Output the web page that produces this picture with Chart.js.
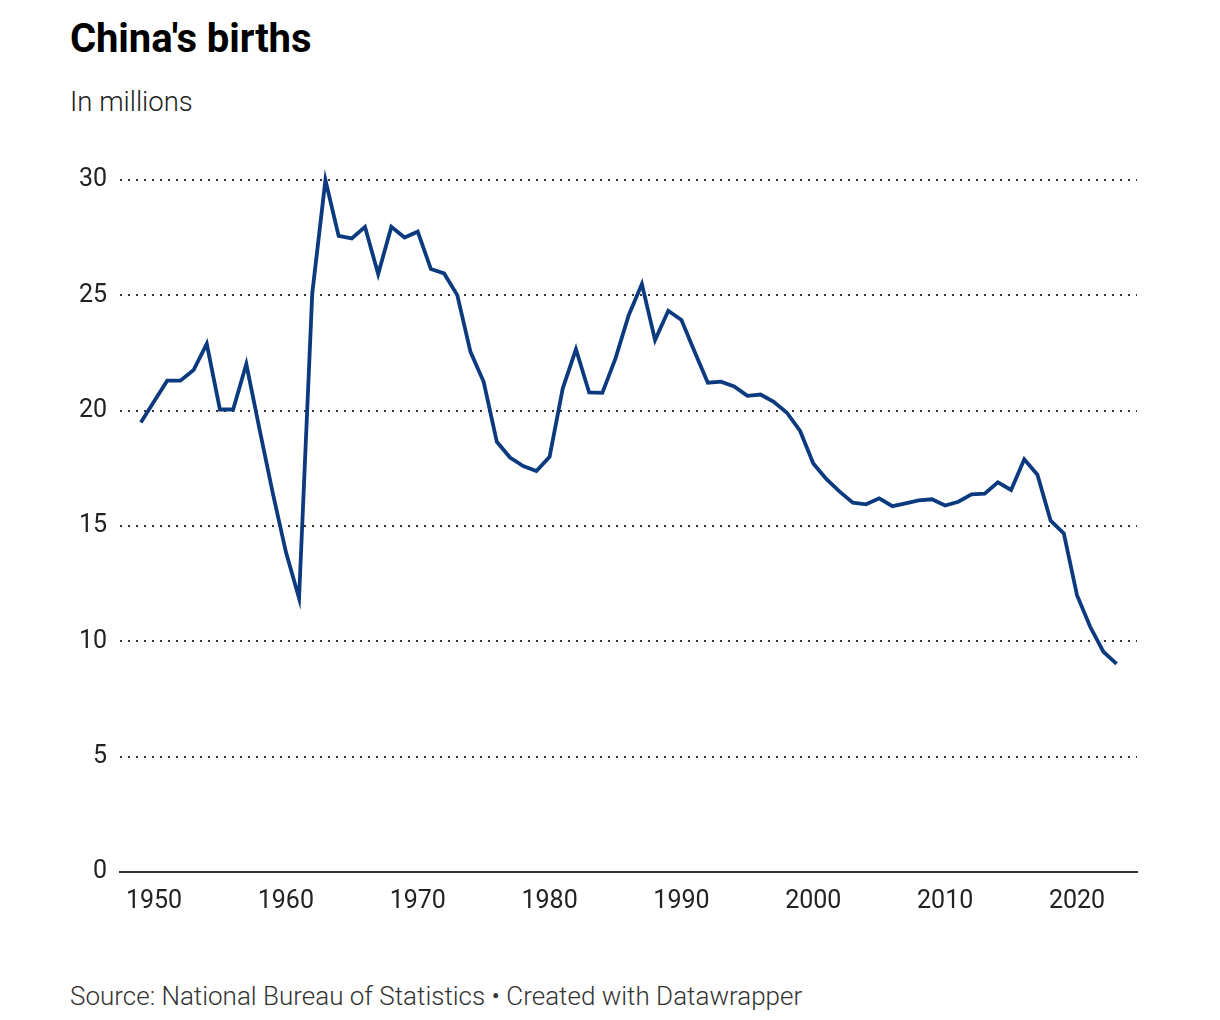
<!DOCTYPE html>
<html>
<head>
<meta charset="utf-8">
<script src="https://cdn.jsdelivr.net/npm/chart.js@4"></script>
<style>
  body { margin: 0; background: #fff; font-family: Roboto, sans-serif; }
  #wrap { position: relative; width: 1220px; height: 1020px; }
  h1 { position: absolute; left: 70px; top: 19px; margin: 0; font-size: 40px; line-height: 1; font-weight: 700; color: #000; letter-spacing: -0.1px; }
  .sub { position: absolute; left: 70px; top: 88px; font-size: 27.5px; line-height: 1; font-weight: 300; color: #222; }
  .source { position: absolute; left: 70px; top: 983px; font-size: 26px; line-height: 1; font-weight: 300; color: #333; }
  #box { position: absolute; left: 0; top: 0; width: 1220px; height: 940px; }
</style>
</head>
<body>
<div id="wrap">
  <h1>China's births</h1>
  <div class="sub">In millions</div>
  <div id="box"><canvas id="births"></canvas></div>
  <div class="source">Source: National Bureau of Statistics • Created with Datawrapper</div>
</div>
<script>
// years and births (millions)
const years = [
  1949, 1950, 1951, 1952, 1953, 1954, 1955, 1956, 1957, 1958,
  1959, 1960, 1961, 1962, 1963, 1964, 1965, 1966, 1967, 1968,
  1969, 1970, 1971, 1972, 1973, 1974, 1975, 1976, 1977, 1978,
  1979, 1980, 1981, 1982, 1983, 1984, 1985, 1986, 1987, 1988,
  1989, 1990, 1991, 1992, 1993, 1994, 1995, 1996, 1997, 1998,
  1999, 2000, 2001, 2002, 2003, 2004, 2005, 2006, 2007, 2008,
  2009, 2010, 2011, 2012, 2013, 2014, 2015, 2016, 2017, 2018,
  2019, 2020, 2021, 2022, 2023
];
const births = [
  19.49, 20.4, 21.3, 21.3, 21.76, 22.9, 20.05, 20.05, 22.02, 19.2,
  16.45, 13.88, 11.87, 25.08, 30.0, 27.58, 27.47, 27.97, 25.92, 27.97,
  27.51, 27.76, 26.14, 25.95, 25.01, 22.55, 21.25, 18.65, 17.97, 17.6,
  17.38, 18.0, 20.97, 22.66, 20.79, 20.77, 22.27, 24.14, 25.49, 23.06,
  24.33, 23.93, 22.55, 21.21, 21.26, 21.05, 20.64, 20.7, 20.38, 19.91,
  19.12, 17.71, 17.03, 16.49, 16.01, 15.94, 16.2, 15.86, 15.98, 16.11,
  16.16, 15.89, 16.05, 16.37, 16.4, 16.89, 16.56, 17.89, 17.22, 15.23,
  14.68, 12.0, 10.63, 9.55, 9.02
];
const xTicks = [1950, 1960, 1970, 1980, 1990, 2000, 2010, 2020];
const yTicks = [0, 5, 10, 15, 20, 25, 30];

const points = years.map((yr, i) => ({ x: yr, y: births[i] }));
const tickFont = { family: 'Roboto', size: 25, weight: '400' };

new Chart(document.getElementById('births').getContext('2d'), {
  type: 'line',
  data: {
    datasets: [{
      data: points,
      borderColor: '#0b3a7e',
      borderWidth: 3.8,
      pointRadius: 0,
      tension: 0,
      clip: false
    }]
  },
  options: {
    responsive: true,
    maintainAspectRatio: false,
    animation: false,
    layout: { padding: { top: 180, right: 83, left: 0, bottom: 0 } },
    plugins: { legend: { display: false }, tooltip: { enabled: false } },
    scales: {
      x: {
        type: 'linear',
        min: 1947.42,
        max: 2024.55,
        afterBuildTicks: s => { s.ticks = xTicks.map(v => ({ value: v })); },
        afterFit: s => { s.height = 68; },
        grid: { display: false, drawTicks: false },
        border: { display: true, color: '#333', width: 2 },
        ticks: {
          padding: 15,
          color: '#222',
          font: tickFont,
          maxRotation: 0,
          callback: v => String(v)
        }
      },
      y: {
        min: 0,
        max: 30,
        afterBuildTicks: s => { s.ticks = yTicks.map(v => ({ value: v })); },
        afterFit: s => { s.width = 120; },
        border: { display: false, dash: [2, 6] },
        grid: {
          drawTicks: false,
          lineWidth: 2,
          color: c => c.tick && c.tick.value === 0 ? 'rgba(0,0,0,0)' : '#333'
        },
        ticks: {
          padding: 13,
          color: '#222',
          font: tickFont
        }
      }
    }
  }
});
</script>
</body>
</html>
